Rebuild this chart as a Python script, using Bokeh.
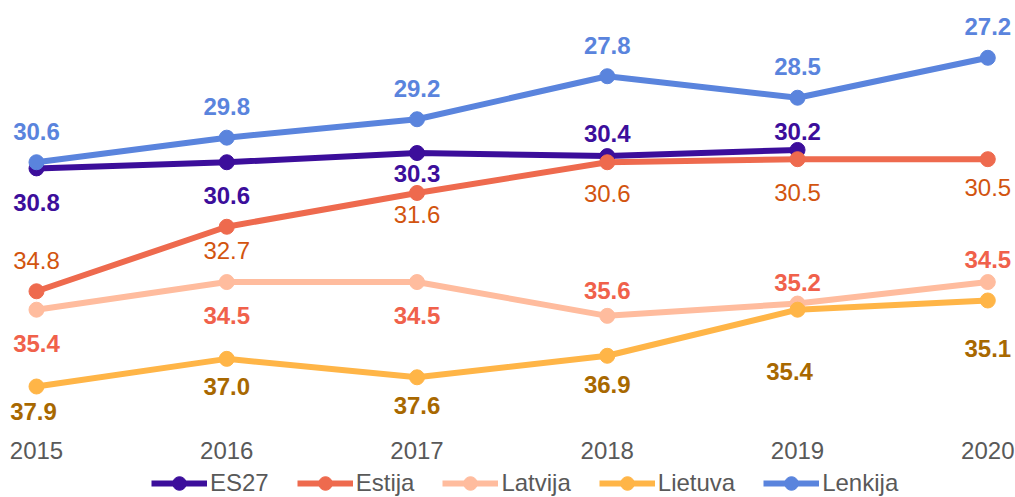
from bokeh.plotting import figure
from bokeh.models import Range1d, FixedTicker, Legend, LegendItem, ColumnDataSource, LinearAxis
from bokeh.embed import file_html
from bokeh.resources import INLINE
from bokeh.core.properties import value

# ---- data ----
years = [2015, 2016, 2017, 2018, 2019, 2020]
tick_labels = ["2015", "2016", "2017", "2018", "2019", "2020"]
series_names = ["ES27", "Estija", "Latvija", "Lietuva", "Lenkija"]
es27 = [30.8, 30.6, 30.3, 30.4, 30.2]
estija = [34.8, 32.7, 31.6, 30.6, 30.5, 30.5]
latvija = [35.4, 34.5, 34.5, 35.6, 35.2, 34.5]
lietuva = [37.9, 37.0, 37.6, 36.9, 35.4, 35.1]
lenkija = [30.6, 29.8, 29.2, 27.8, 28.5, 27.2]

# ---- styles ----
FONT = "Liberation Sans"
line_colors = ["#3C0E9B", "#EE6A4E", "#FFBC9E", "#FFB547", "#5A84DD"]
label_colors = ["#3C0E9B", "#D2540F", "#F0614B", "#A86800", "#5A84DD"]
label_styles = ["bold", "normal", "bold", "bold", "bold"]
# label pixel offsets (screen, positive = down)
label_dy = [
    [34, 33, 20, -23, -18],
    [-31, 24, 22, 31, 33, 28],
    [34, 33, 33, -25, -21, -23],
    [25, 28, 28, 29, 62, 48],
    [-31, -31, -31, -31, -31, -31],
]
label_dx = [
    [0, 0, 0, 0, 0],
    [0, 0, 0, 0, 0, 0],
    [0, 0, 0, 0, 0, 0],
    [-3, 0, 0, 0, -8, 0],
    [0, 0, 0, 0, 0, 0],
]

all_values = [es27, estija, latvija, lietuva, lenkija]

p = figure(width=1015, height=497,
           x_range=Range1d(2014.8108, 2020.1456),
           y_range=Range1d(41.513, 25.335),
           output_backend="svg", toolbar_location=None,
           x_axis_location=None, y_axis_location=None,
           min_border_left=0, min_border_right=0, min_border_top=0, min_border_bottom=0)
p.outline_line_color = None
p.xgrid.visible = False
p.ygrid.visible = False
p.background_fill_color = "white"
p.border_fill_color = "white"

ax = LinearAxis(fixed_location=39.332)
ax.ticker = FixedTicker(ticks=years)
ax.major_label_overrides = {y: t for y, t in zip(years, tick_labels)}
ax.axis_line_color = None
ax.major_tick_line_color = None
ax.minor_tick_line_color = None
ax.major_label_text_font = FONT
ax.major_label_text_font_size = "24px"
ax.major_label_text_color = "#595959"
ax.major_label_standoff = 6
p.add_layout(ax, "below")

items = []
for name, vals, lc in zip(series_names, all_values, line_colors):
    src = ColumnDataSource(dict(x=years[:len(vals)], y=vals))
    r1 = p.line("x", "y", source=src, line_color=lc, line_width=6)
    r2 = p.scatter("x", "y", source=src, size=15, fill_color=lc, line_color=lc)
    items.append(LegendItem(label=name, renderers=[r1, r2]))

for vals, col, st, dy, dx in zip(all_values, label_colors, label_styles, label_dy, label_dx):
    src = ColumnDataSource(dict(x=years[:len(vals)], y=vals,
                                t=[f"{v:.1f}" for v in vals], dy=dy, dx=dx))
    p.text("x", "y", text="t", source=src, x_offset="dx", y_offset="dy",
           text_align="center", text_baseline="middle",
           text_font=value(FONT), text_font_size="24px", text_font_style=st,
           text_color=col)

legend = Legend(items=items, orientation="horizontal", location=(151, -3),
                padding=0, margin=0, spacing=28, label_standoff=3,
                glyph_width=56, glyph_height=34,
                label_text_font=FONT, label_text_font_size="24px",
                label_text_color="#595959",
                border_line_color=None, background_fill_alpha=0)
p.add_layout(legend, "center")

open("out.html", "w").write(file_html(p, INLINE))
